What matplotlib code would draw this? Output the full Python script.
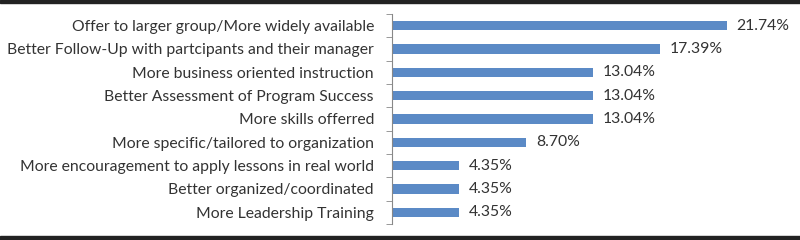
import matplotlib.pyplot as plt
import matplotlib.patches as mpatches

categories = ['Offer to larger group/More widely available',
              'Better Follow-Up with partcipants and their manager',
              'More business oriented instruction',
              'Better Assessment of Program Success',
              'More skills offerred',
              'More specific/tailored to organization',
              'More encouragement to apply lessons in real world',
              'Better organized/coordinated',
              'More Leadership Training']
values = [21.74, 17.39, 13.04, 13.04, 13.04, 8.70, 4.35, 4.35, 4.35]

plt.rcParams['font.family'] = ['Lato', 'DejaVu Sans']

fig = plt.figure(figsize=(8, 2.4), dpi=100)
ax = fig.add_axes([0.49, 0.0667, 0.481, 0.875])

y = list(range(len(categories)))[::-1]
ax.barh(y, values, height=0.4, color='#5b8ac6')

for yi, v in zip(y, values):
    ax.text(v + 0.65, yi, f'{v:.2f}%', va='center', ha='left', fontsize=11.3, color='#333333')

ax.set_xlim(0, 25)
ax.set_ylim(-0.5, len(categories) - 0.5)
ax.set_yticks(y)
ax.set_yticklabels(categories, fontsize=11.3, color='#333333')
ax.tick_params(axis='y', length=0, pad=13)
# minor ticks at category boundaries
ax.set_yticks([i - 0.5 for i in range(len(categories) + 1)], minor=True)
ax.tick_params(axis='y', which='minor', length=4, color='#888888')
ax.set_xticks([])
for s in ['top', 'right', 'bottom']:
    ax.spines[s].set_visible(False)
ax.spines['left'].set_color('#888888')

# dark frame bands at top and bottom
fig.patches.append(mpatches.Rectangle((0, 1 - 3 / 240), 1, 3 / 240, transform=fig.transFigure,
                                      color='#222222', zorder=0))
fig.patches.append(mpatches.Rectangle((0, 0), 1, 4 / 240, transform=fig.transFigure,
                                      color='#222222', zorder=0))

fig.savefig('out.png', dpi=100)
